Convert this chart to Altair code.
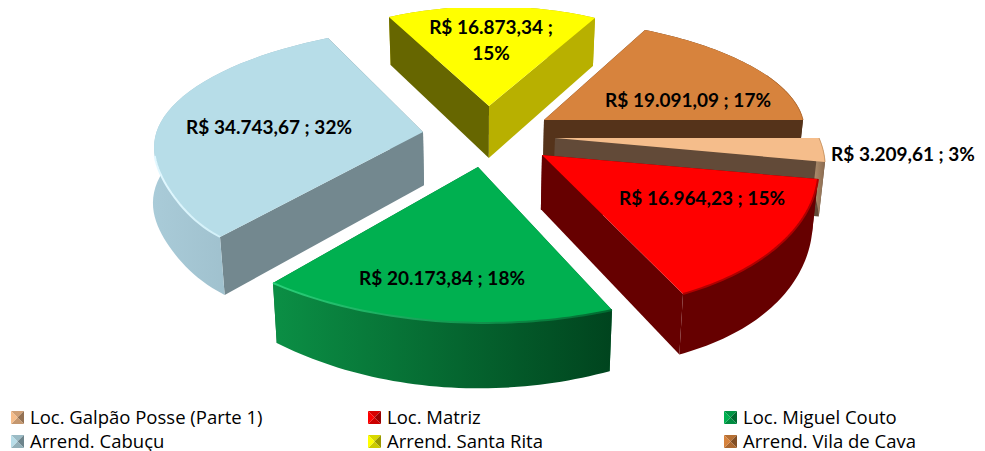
import math
import altair as alt

# ---- data ----
categories = ["Loc. Galpão Posse (Parte 1)", "Loc. Matriz", "Loc. Miguel Couto",
              "Arrend. Cabuçu", "Arrend. Santa Rita", "Arrend. Vila de Cava"]
values = [3209.61, 16964.23, 20173.84, 34743.67, 16873.34, 19091.09]
percents = [3, 15, 18, 32, 15, 17]

# ---- layout of the perspective drawing (reference pixels) ----
TOTAL = sum(values)
SWEEP = [v / TOTAL * 2 * math.pi for v in values]
LABEL_FONT = "Lato"
LEGEND_FONT = "Open Sans"

# apex, rim corner at the start of the sweep, rim corner at the end of the sweep
GEOM = {
    0: ((555, 138), (819, 138), (825, 162)),
    1: ((542, 155), (818, 179), (683, 294)),
    2: ((478, 167), (612, 310), (273, 283)),
    3: ((423, 132), (220, 237), (328, 38)),
    4: ((489, 106), (389, 17), (595, 18)),
    5: ((544, 120), (645, 30), (803, 120)),
}
# warp: perspective skew of the rim; lift / spread: shift of the lower rim at mid-sweep
WARP = {0: 0, 1: 0, 2: 0, 3: -0.06, 4: 0, 5: 0}
LIFT = {0: 0, 1: 2, 2: 4, 3: 2, 4: 0, 5: 0}
SPREAD = {0: 0, 1: 0, 2: 0, 3: -7, 4: 0, 5: 0}
BACK_SLICES = {4, 5}
STYLE = {
    0: dict(top="#F5BD8B", w1="#624A38", w2="#624A38",
            rim=["#B09070", "#8A6A4E"], edge=["#C9935F", "#C9935F"], span=(0.0, 1.0), ew=1),
    1: dict(top="#FF0000", w1="#660000", w2="#660000",
            rim=["#660000", "#660000"], edge=["#B00000", "#B00000"], span=(0.0, 1.0), ew=2),
    2: dict(top="#00B050", w1="#006B30", w2="#006B30",
            rim=["#0B8F45", "#00441E"], edge=["#2AD079", "#006B30"], span=(0.0, 1.0), ew=2),
    3: dict(top="#B7DDE8", w1="#73888F", w2="#73888F",
            rim=["#A9CBD8", "#93B3C0"], edge=["#E2F8FF", "#D2F0F8"], span=(0.0, 0.45), ew=2),
    4: dict(top="#FFFF00", w1="#666600", w2="#B8B000",
            rim=["#B8B000", "#B8B000"], edge=["#FFFF00", "#FFFF00"], span=(0.0, 0.0), ew=0),
    5: dict(top="#D7833D", w1="#55331A", w2="#55331A",
            rim=["#55331A", "#55331A"], edge=["#B56C30", "#B56C30"], span=(0.6, 1.0), ew=1),
}
DRAW_ORDER = [4, 3, 5, 0, 1, 2]
LABELS = {
    0: [(903, 155)], 1: [(702, 199)], 2: [(442, 279)],
    3: [(269, 128)], 4: [(491, 28), (491, 54)], 5: [(688, 101)],
}


def brl(v):
    return f"{v:,.2f}".replace(",", "§").replace(".", ",").replace("§", ".")


def arc(i, n=48):
    A, P1, P2 = GEOM[i]
    d = SWEEP[i]
    a = (P1[0] - A[0], P1[1] - A[1])
    b = (P2[0] - A[0], P2[1] - A[1])
    out = []
    for k in range(n + 1):
        t = k / n
        s1 = math.sin((1 - t) * d) / math.sin(d)
        s2 = math.sin(t * d) / math.sin(d)
        w = 1 + WARP[i] * math.sin(2 * math.pi * t)
        out.append((A[0] + w * (s1 * a[0] + s2 * b[0]), A[1] + w * (s1 * a[1] + s2 * b[1])))
    return out


def low(p):
    """Same point on the lower face of the slice."""
    return (p[0] + (480 - p[0]) * 0.018, p[1] + 48 + (p[1] - 17) * 0.045)


def poly(points):
    ring = [list(p) for p in points] + [list(points[0])]
    return {"type": "Feature", "properties": {},
            "geometry": {"type": "Polygon", "coordinates": [ring]}}


def line(points):
    return {"type": "Feature", "properties": {},
            "geometry": {"type": "LineString", "coordinates": [list(p) for p in points]}}


def hgrad(c):
    return alt.Gradient(gradient="linear", x1=0, x2=1, y1=0, y2=0,
                        stops=[alt.GradientStop(offset=0, color=c[0]),
                               alt.GradientStop(offset=1, color=c[1])])


def shape(features, **kw):
    return alt.Chart(alt.Data(values=features)).mark_geoshape(**kw).project(
        type="identity", scale=1, translate=[-8, -8])


layers = []
for i in DRAW_ORDER:
    st = STYLE[i]
    A = GEOM[i][0]
    pts = arc(i)
    n = len(pts) - 1
    lower = []
    for k, p in enumerate(pts):
        q = low(p)
        bump = math.sin(math.pi * k / n)
        lower.append((q[0] + SPREAD[i] * bump, q[1] + LIFT[i] * bump))
    rim = shape([poly(pts + lower[::-1])], fill=hgrad(st["rim"]), stroke=None)
    walls = [shape([poly([A, pts[0], lower[0], low(A)])], fill=st["w1"], stroke=None),
             shape([poly([A, pts[-1], lower[-1], low(A)])], fill=st["w2"], stroke=None)]
    layers += [rim] + walls if i in BACK_SLICES else walls + [rim]
    layers.append(shape([poly([A] + pts)], fill=st["top"], stroke=None))
    t0, t1 = st["span"]
    if st["ew"]:
        part = pts[int(t0 * n): int(t1 * n) + 1]
        layers.append(shape([line(part)], filled=False, fill=None, stroke=hgrad(st["edge"]),
                            strokeWidth=st["ew"]))

# value labels
label_rows = []
for i in range(len(values)):
    text = f"R$ {brl(values[i])} ; {percents[i]}%"
    spots = LABELS[i]
    if len(spots) == 2:
        parts = [f"R$ {brl(values[i])} ;", f"{percents[i]}%"]
    else:
        parts = [text]
    for s, p in zip(spots, parts):
        label_rows.append({"lon": s[0], "lat": s[1], "t": p})
layers.append(
    alt.Chart(alt.Data(values=label_rows))
    .mark_text(font=LABEL_FONT, fontWeight="bold", fontSize=19, color="#000000",
               align="center", baseline="middle")
    .encode(longitude="lon:Q", latitude="lat:Q", text="t:N")
    .project(type="identity", scale=1, translate=[-8, -8])
)

# legend in the reference's 3×2 grid
COL_X = [11, 368, 724]
ROW_Y = [411, 435]
SW = 13


def tint(hexc, f):
    r, g, b = int(hexc[1:3], 16), int(hexc[3:5], 16), int(hexc[5:7], 16)
    return "#%02X%02X%02X" % (int(r * f), int(g * f), int(b * f))


legend_rows = []
for i, name in enumerate(categories):
    x0, y0 = COL_X[i % 3], ROW_Y[i // 3]
    c = (x0 + SW / 2, y0 + SW / 2)
    corners = [(x0, y0), (x0 + SW, y0), (x0 + SW, y0 + SW), (x0, y0 + SW)]
    base = STYLE[i]["top"]
    for k, f in enumerate([0.85, 0.6, 0.8, 1.0]):
        tri = [corners[k], corners[(k + 1) % 4], c]
        layers.append(shape([poly(tri)], fill=tint(base, f), stroke=None))
    legend_rows.append({"lon": x0 + SW + 6, "lat": y0 + 6.5, "t": name})
layers.append(
    alt.Chart(alt.Data(values=legend_rows))
    .mark_text(font=LEGEND_FONT, fontSize=18.5, color="#000000", align="left", baseline="middle")
    .encode(longitude="lon:Q", latitude="lat:Q", text="t:N")
    .project(type="identity", scale=1, translate=[-8, -8])
)

chart = (
    alt.layer(*layers)
    .properties(width=969, height=443, padding=0, background="#FFFFFF")
    .configure_view(stroke=None)
)
chart.save("out.html", embed_options={"renderer": "svg", "actions": False})
